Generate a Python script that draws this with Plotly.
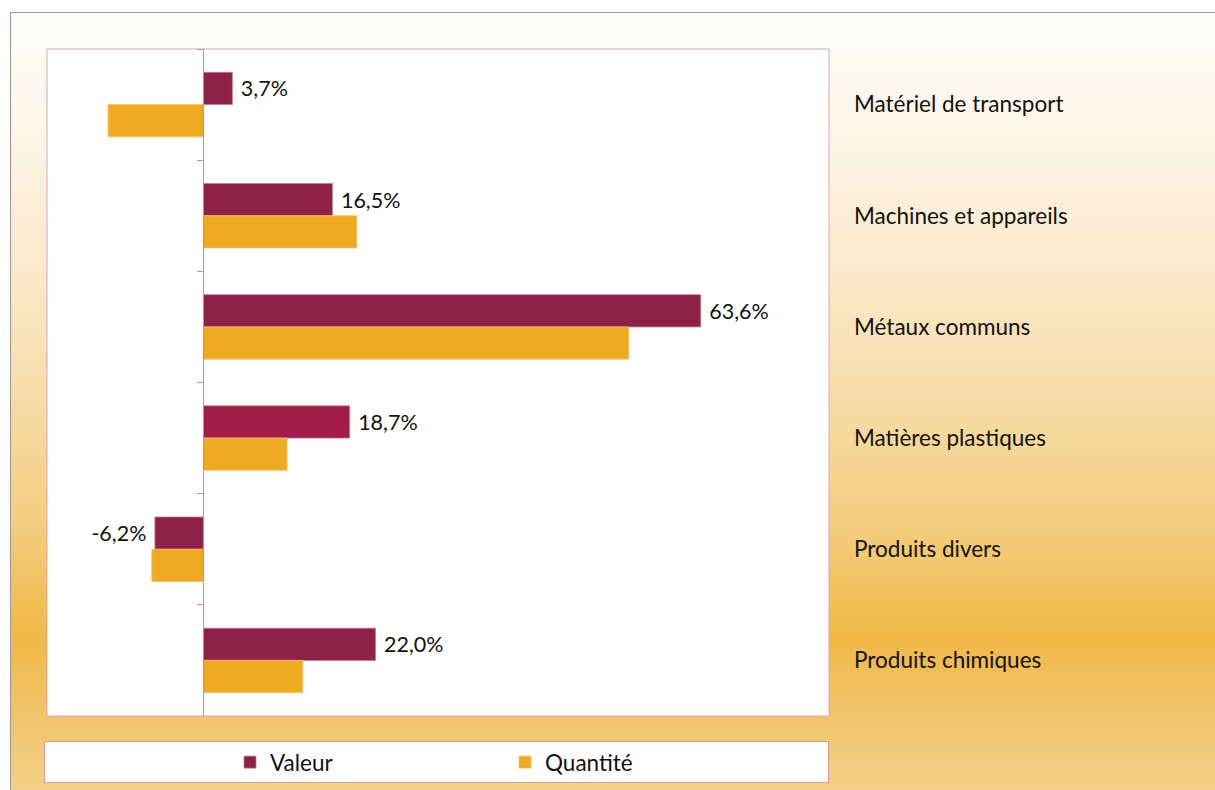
import plotly.graph_objects as go

# ---------------- data ----------------
categories = ["Matériel de transport", "Machines et appareils", "Métaux communs",
              "Matières plastiques", "Produits divers", "Produits chimiques"]
valeur = [3.7, 16.5, 63.6, 18.7, -6.2, 22.0]
quantite = [-12.2, 19.6, 54.4, 10.7, -6.6, 12.7]
series_names = ["Valeur", "Quantité"]
x_range = [-20, 80]

# ---------------- styling ----------------
FONT = "Lato"
FS = 22.5
FS_LAB = 21.5
W = 1215
SY = 796 / 790                           # vertical compensation of the capture
H = 796
L, R = 47, 829                           # plot area x (page px)
T_REF, B_REF = 49, 716                   # plot area y (reference px)
T, B = T_REF * SY, B_REF * SY
valeur_colors = ["#8d2147", "#8d2147", "#8d2147", "#a21e48", "#8d2147", "#8d2147"]
quantite_color = "#efaa22"

def px_x(px):
    return (px - L) / (R - L)

def px_y(py):
    return (B - py * SY) / (B - T)

def fmt(v):
    s = f"{v:.1f}".replace(".", ",") + "%"
    return ("\u00a0" + s) if v >= 0 else (s + "\u00a0")

fig = go.Figure()
fig.add_trace(go.Bar(
    name=series_names[0], y=categories, x=valeur, orientation="h",
    marker=dict(color=valeur_colors, line=dict(color="#c27890", width=0.8)),
    text=[fmt(v) for v in valeur], textposition="outside",
    textfont=dict(family=FONT, size=FS_LAB, color="#111"),
    constraintext="none", cliponaxis=False, hoverinfo="skip",
))
fig.add_trace(go.Bar(
    name=series_names[1], y=categories, x=quantite, orientation="h",
    marker=dict(color=quantite_color, line=dict(color="#f4c36a", width=0.8)),
    hoverinfo="skip",
))
# invisible helper trace carrying the right-hand category labels
fig.add_trace(go.Scatter(
    y=categories, x=[0] * len(categories), yaxis="y2", mode="markers",
    marker=dict(opacity=0), showlegend=False, hoverinfo="skip",
))

# ---------------- background shapes ----------------
shapes = []
stops = [(12, (255, 253, 249)), (120, (253, 246, 234)), (250, (251, 235, 208)),
         (400, (247, 220, 166)), (520, (244, 206, 130)), (600, (241, 191, 88)),
         (640, (240, 184, 74)), (700, (241, 194, 100)), (790, (244, 208, 136))]

def col_at(py):
    for (y0, c0), (y1, c1) in zip(stops[:-1], stops[1:]):
        if y0 <= py <= y1:
            t = (py - y0) / (y1 - y0)
            return "rgb(%d,%d,%d)" % tuple(round(a + (b - a) * t) for a, b in zip(c0, c1))
    return "rgb(%d,%d,%d)" % stops[-1][1]

step = 5
y = 12
while y < 800:
    shapes.append(dict(type="rect", xref="paper", yref="paper", layer="below",
                       x0=px_x(10), x1=px_x(1230), y0=px_y(y), y1=px_y(y + step + 1),
                       fillcolor=col_at(y + step / 2), line=dict(width=0)))
    y += step
# outer frame
shapes.append(dict(type="rect", xref="paper", yref="paper", layer="below",
                   x0=px_x(10.5), x1=px_x(1240), y0=px_y(12.5), y1=px_y(810),
                   line=dict(color="#9e9e9e", width=1.2), fillcolor="rgba(0,0,0,0)"))
# plot area
shapes.append(dict(type="rect", xref="paper", yref="paper", layer="below",
                   x0=0, x1=1, y0=0, y1=1, fillcolor="white",
                   line=dict(color="#d9a6b9", width=1)))
# legend box
shapes.append(dict(type="rect", xref="paper", yref="paper", layer="below",
                   x0=px_x(44.5), x1=px_x(828.5), y0=px_y(741.5), y1=px_y(782.5),
                   fillcolor="white", line=dict(color="#dc9a98", width=1.2)))

zero_pos = (0 - x_range[0]) / (x_range[1] - x_range[0])

fig.update_layout(
    width=W, height=H,
    margin=dict(l=L, r=W - R, t=T, b=H - B, pad=0),
    paper_bgcolor="white", plot_bgcolor="rgba(0,0,0,0)",
    font=dict(family=FONT, size=FS, color="#111"),
    barmode="group", bargap=0.42, bargroupgap=0,
    shapes=shapes,
    showlegend=True,
    legend=dict(orientation="h", x=px_x(230), y=px_y(762.5), xanchor="left", yanchor="middle",
                xref="paper", yref="paper", bgcolor="rgba(0,0,0,0)",
                entrywidth=230, entrywidthmode="pixels",
                font=dict(family=FONT, size=FS, color="#111"), traceorder="normal"),
    xaxis=dict(range=x_range, showgrid=False, zeroline=False, showline=False,
               showticklabels=False, ticks="", fixedrange=True),
    yaxis=dict(type="category", categoryorder="array", categoryarray=categories,
               range=[len(categories) - 0.5, -0.5], anchor="free", position=zero_pos,
               side="left", showline=True, linecolor="#c98aa2", linewidth=1,
               ticks="outside", ticklen=6, tickcolor="#c98aa2", tickson="boundaries",
               showticklabels=False, showgrid=False, zeroline=False, fixedrange=True),
    yaxis2=dict(type="category", categoryorder="array", categoryarray=categories,
                range=[len(categories) - 0.5, -0.5], overlaying="y", anchor="x",
                side="right", showline=False, ticks="", showgrid=False, zeroline=False,
                ticklabelstandoff=24, tickfont=dict(family=FONT, size=FS, color="#111"),
                fixedrange=True),
)

fig.write_html("out.html", config={"displayModeBar": False},
               post_script="document.body.style.margin='0';document.body.style.overflow='hidden';")
